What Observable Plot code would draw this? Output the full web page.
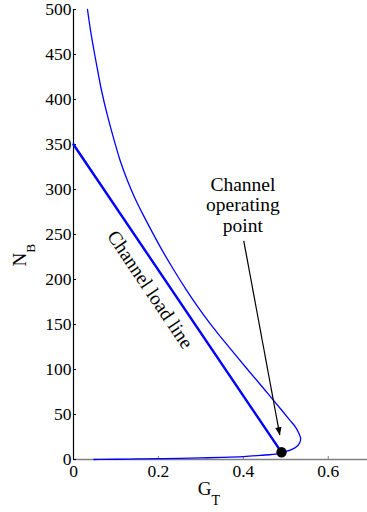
<!DOCTYPE html>
<html><head><meta charset="utf-8">
<script src="https://cdn.jsdelivr.net/npm/d3@7"></script>
<script src="https://cdn.jsdelivr.net/npm/@observablehq/plot@0.6"></script>
<style>
body{margin:0;background:#fff} svg{display:block}
</style>
</head><body><div id="chart"></div>
<script>
// Thin curve (traced along its path)
const curveX = [0.033,0.040,0.048,0.057,0.066,0.080,0.095,0.110,0.127,0.145,0.165,0.184,0.210,0.237,0.265,0.290,0.320,0.347,0.380,0.410,0.437,0.460,0.490,0.510,0.523,0.531,0.535,0.533,0.526,0.512,0.500,0.490,0.480,0.440,0.400,0.350,0.300,0.250,0.200,0.150,0.100,0.070,0.048];
const curveY = [500,477,455,432,410,382,356,332,310,290,271,254,231.5,210,189,171.5,152,136,117,100,85,72,55,43.5,36,29,23.5,19,14.5,10.8,9,7.8,6.3,4.6,3.3,2.4,1.8,1.3,0.9,0.6,0.3,0.1,0];
// Channel load line
const loadX = [0, 0.49];
const loadY = [350, 8];
// Operating point
const opX = [0.49];
const opY = [8];
// Arrow (start, tip)
const arrowX = [0.401, 0.486];
const arrowY = [243, 27];
// Annotations
const noteText = ["Channel\noperating\npoint", "Channel load line"];
const noteX = [0.399, 0.181];
const noteY = [283, 189];
const noteRotate = [0, 56];
// Ticks
const xTicks = [0, 0.2, 0.4, 0.6];
const yTicks = [0, 50, 100, 150, 200, 250, 300, 350, 400, 450, 500];

const FONT = "'Liberation Serif', 'DejaVu Serif', serif";
const curve = curveX.map((x, i) => ({x, y: curveY[i]}));
const load = loadX.map((x, i) => ({x, y: loadY[i]}));
const op = opX.map((x, i) => ({x, y: opY[i]}));
const arrow = [{x1: arrowX[0], y1: arrowY[0], x2: arrowX[1], y2: arrowY[1]}];
const notes = noteText.map((t, i) => ({t, x: noteX[i], y: noteY[i], r: noteRotate[i]}));

const headMarker = (color, context) => {
  const m = d3.create("svg:marker")
    .attr("viewBox", "-8 -4 8 8")
    .attr("markerWidth", 8).attr("markerHeight", 8)
    .attr("markerUnits", "userSpaceOnUse")
    .attr("orient", "auto").attr("refX", 0).attr("refY", 0)
    .attr("overflow", "visible");
  m.append("path").attr("d", "M-8,-3.2L0,0L-8,3.2Z").attr("fill", "black").attr("stroke", "none");
  return m.node();
};

const plot = Plot.plot({
  width: 367, height: 512,
  marginLeft: 73, marginRight: 0, marginTop: 9, marginBottom: 53,
  style: {fontSize: "17.5px", background: "white", color: "black"},
  x: {domain: [0, 0.6925]},
  y: {domain: [0, 500]},
  marks: [
    Plot.ruleY([0], {stroke: "#808080", strokeWidth: 1.3}),
    Plot.axisX({ticks: xTicks, tickSize: -3, tickPadding: 8, stroke: "#808080", fill: "black", fontSize: 17.5, tickFormat: d => String(d), label: null}),
    Plot.axisY({ticks: yTicks, tickSize: -3, tickPadding: 5, stroke: "black", fill: "black", fontSize: 17.5, label: null}),
    Plot.ruleX([0], {stroke: "black", strokeWidth: 1.2}),
    Plot.line(curve, {x: "x", y: "y", stroke: "#0000ff", strokeWidth: 1.3, curve: "catmull-rom"}),
    Plot.line(load, {x: "x", y: "y", stroke: "#0000ff", strokeWidth: 2.4}),
    Plot.link(arrow, {x1: "x1", y1: "y1", x2: "x2", y2: "y2", stroke: "black", strokeWidth: 1.2, markerEnd: headMarker}),
    Plot.dot(op, {x: "x", y: "y", r: 5.2, fill: "black"}),
    Plot.text(notes, {x: "x", y: "y", text: "t", rotate: "r", fontSize: 19.5, lineHeight: 1.05, textAnchor: "middle", fill: "black"})
  ]
});

const svg = d3.select(plot);
// x axis label G_T
const gx = svg.append("text").attr("x", 209).attr("y", 495).attr("fill", "black");
gx.append("tspan").attr("font-size", 19).text("G");
gx.append("tspan").attr("font-size", 14).attr("dy", 9.5).text("T");
// y axis label N_B
const gy = svg.append("text").attr("transform", "translate(26,255) rotate(-90)").attr("fill", "black");
gy.append("tspan").attr("font-size", 19).text("N");
gy.append("tspan").attr("font-size", 13.5).attr("dy", 9).text("B");

svg.style("font-family", FONT);
svg.selectAll("g, text, tspan").style("font-family", FONT);

document.getElementById("chart").appendChild(plot);
</script>
</body></html>
